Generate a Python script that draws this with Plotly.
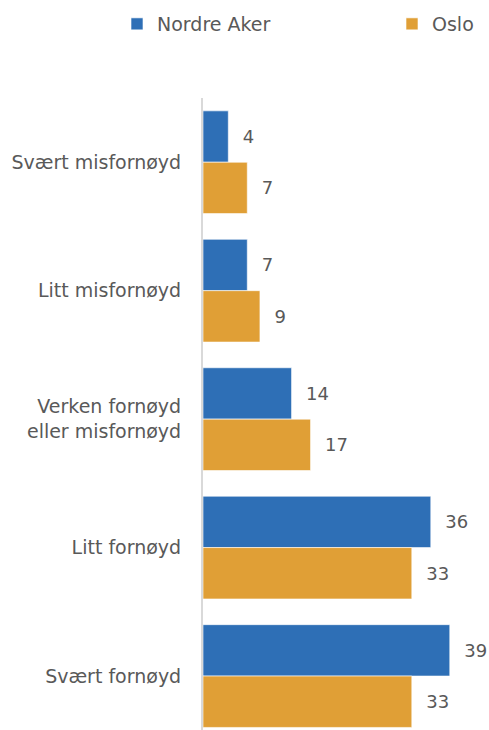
import plotly.graph_objects as go

categories = ["Svært misfornøyd", "Litt misfornøyd", "Verken fornøyd<br>eller misfornøyd",
              "Litt fornøyd", "Svært fornøyd"]
nordre_aker = [4, 7, 14, 36, 39]
oslo = [7, 9, 17, 33, 33]
series_names = ["Nordre Aker", "Oslo"]
colors = ["#2E6FB6", "#E09F36"]

FONT = "DejaVu Sans"
GRAY = "#595959"
NB = "\u00a0\u00a0"
FS = 19

fig = go.Figure()
for name, vals, col, lg in zip(series_names, [nordre_aker, oslo], colors, ["legend", "legend2"]):
    fig.add_trace(go.Bar(
        y=categories, x=vals, name=name, orientation="h", legend=lg,
        marker=dict(color=col, line=dict(color="rgba(255,255,255,0.6)", width=1)),
        text=vals, texttemplate=NB + "%{x}", textposition="outside",
        textfont=dict(family=FONT, size=18, color=GRAY),
        cliponaxis=False,
    ))

leg_common = dict(orientation="h", yref="container", y=1 - 24 / 730, yanchor="middle",
                  xref="container", xanchor="left", itemwidth=30,
                  font=dict(family=FONT, size=FS, color=GRAY), bgcolor="rgba(0,0,0,0)")
fig.update_layout(
    width=489, height=730,
    margin=dict(l=203, r=0, t=98, b=0, autoexpand=False),
    barmode="group", bargap=0.2, bargroupgap=0,
    plot_bgcolor="white", paper_bgcolor="white",
    font=dict(family=FONT, size=FS, color=GRAY),
    showlegend=True,
    legend=dict(x=(140 - 23) / 489, **leg_common),
    legend2=dict(x=(414 - 22) / 489, **leg_common),
)
fig.update_xaxes(range=[0, 45.2], showgrid=False, zeroline=False, showticklabels=False,
                 showline=False, automargin=False)
fig.update_yaxes(range=[4.42, -0.5], showgrid=False, showline=True, linecolor="#D9D9D9",
                 linewidth=2, ticks="", ticklabelstandoff=16, automargin=False,
                 tickfont=dict(family=FONT, size=FS, color=GRAY))

fig.write_html("out.html", config={"displayModeBar": False},
               post_script="document.body.style.margin='0';document.body.style.overflow='hidden';")
